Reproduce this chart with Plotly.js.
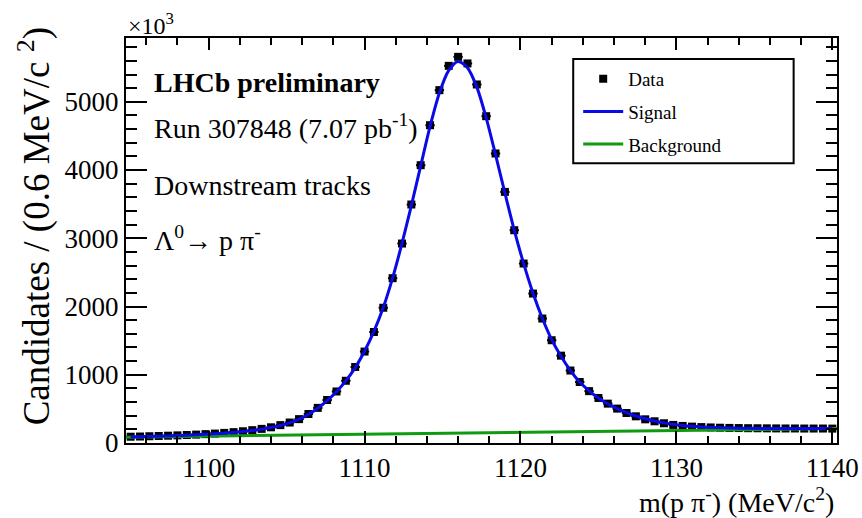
<!DOCTYPE html>
<html>
<head>
<meta charset="utf-8">
<script src="https://cdn.plot.ly/plotly-3.0.1.min.js"></script>
<style>html,body{margin:0;padding:0;background:#fff;}#chart{width:862px;height:518px;}</style>
</head>
<body>
<div id="chart"></div>
<script>
// Bin centres of m(p pi-) in MeV/c^2 (0.6 MeV bins)
const massBins = [
1095.0,1095.6,1096.2,1096.8,1097.4,1098.0,1098.6,1099.2,1099.8,1100.4,
1101.0,1101.6,1102.2,1102.8,1103.4,1104.0,1104.6,1105.2,1105.8,1106.4,
1107.0,1107.6,1108.2,1108.8,1109.4,1110.0,1110.6,1111.2,1111.8,1112.4,
1113.0,1113.6,1114.2,1114.8,1115.4,1116.0,1116.6,1117.2,1117.8,1118.4,
1119.0,1119.6,1120.2,1120.8,1121.4,1122.0,1122.6,1123.2,1123.8,1124.4,
1125.0,1125.6,1126.2,1126.8,1127.4,1128.0,1128.6,1129.2,1129.8,1130.4,
1131.0,1131.6,1132.2,1132.8,1133.4,1134.0,1134.6,1135.2,1135.8,1136.4,
1137.0,1137.6,1138.2,1138.8,1139.4,1140.0];

// Data: candidates per bin (x10^3)
const dataCounts = [
92,95,99,103,107,112,117,123,130,138,
148,159,172,188,207,230,262,300,350,425,
515,630,755,912,1114,1340,1627,1982,2415,2923,
3495,4071,4657,5171,5527,5659,5562,5254,4789,4243,
3680,3118,2630,2190,1824,1506,1280,1062,894,760,
660,577,504,440,391,347,318,289,265,250,
240,233,228,224,221,219,217,216,215,214,
213,213,212,212,212,211];

// Total fit curve ("Signal") evaluated at the bin centres (x10^3)
const fitCounts = [
89,92,96,100,104,109,114,120,127,135,
144,155,168,184,203,227,257,295,348,420,
510,622,752,910,1105,1345,1635,1985,2420,2925,
3480,4060,4640,5130,5460,5590,5500,5215,4765,4225,
3665,3120,2632,2198,1828,1515,1270,1062,895,765,
660,575,505,445,395,355,322,295,273,257,
245,236,229,224,220,217,215,214,213,212,
212,211,211,211,211,211];

// Background component (x10^3)
const bgMass = [1094.7, 1140.3];
const bgCounts = [86, 212];

const serif = 'Liberation Serif';

const traces = [
  {
    x: massBins, y: dataCounts, type: 'scatter', mode: 'markers', name: 'Data',
    marker: {symbol: 'square', size: 8, color: '#000'},
    error_x: {type: 'constant', value: 0.3, width: 0, thickness: 2, color: '#000'},
    legendgroup: 'a', legendrank: 1
  },
  {
    x: bgMass, y: bgCounts, type: 'scatter', mode: 'lines', name: 'Background',
    line: {color: '#0f9a0f', width: 3},
    legendgroup: 'c', legendrank: 3
  },
  {
    x: massBins, y: fitCounts, type: 'scatter', mode: 'lines', name: 'Signal',
    line: {color: '#0a0ae6', width: 3, shape: 'spline', smoothing: 0.8},
    legendgroup: 'b', legendrank: 2
  }
];

const axisCommon = {
  showgrid: false, zeroline: false, showline: true, linecolor: '#000', linewidth: 2,
  mirror: 'allticks', ticks: 'inside', tickcolor: '#000', tickwidth: 2,
  tickfont: {family: serif, size: 27, color: '#000'}
};

const layout = {
  width: 862, height: 518,
  margin: {l: 126, r: 25, t: 38, b: 75},
  paper_bgcolor: '#fff', plot_bgcolor: '#fff',
  font: {family: serif, color: '#000'},
  showlegend: true,
  legend: {
    x: 0.636, y: 0.946, xanchor: 'left', yanchor: 'top',
    font: {family: serif, size: 19, color: '#000'},
    bgcolor: 'rgba(0,0,0,0)', borderwidth: 0,
    tracegroupgap: 5, itemwidth: 40, traceorder: 'grouped'
  },
  xaxis: Object.assign({}, axisCommon, {
    range: [1094.7, 1140.3], dtick: 10, tick0: 1100, ticklen: 12,
    minor: {dtick: 2, ticks: 'inside', ticklen: 7, tickcolor: '#000', tickwidth: 2}
  }),
  yaxis: Object.assign({}, axisCommon, {
    range: [0, 5935], dtick: 1000, ticklen: 21,
    minor: {dtick: 200, ticks: 'inside', ticklen: 11, tickcolor: '#000', tickwidth: 2}
  }),
  shapes: [
    {type: 'rect', xref: 'paper', yref: 'paper', x0: 0.629, x1: 0.939, y0: 0.691, y1: 0.948,
     line: {color: '#000', width: 2}, fillcolor: 'rgba(0,0,0,0)'}
  ],
  annotations: [
    {xref: 'paper', yref: 'paper', x: 0.0, y: 1.035, xanchor: 'left', yanchor: 'middle', showarrow: false,
     text: '×10<sup>3</sup>', font: {family: serif, size: 24, color: '#000'}},
    {xref: 'paper', yref: 'paper', x: 0.036, y: 0.889, xanchor: 'left', yanchor: 'middle', showarrow: false,
     text: '<b>LHCb preliminary</b>', font: {family: serif, size: 28, color: '#000'}},
    {xref: 'paper', yref: 'paper', x: 0.036, y: 0.781, xanchor: 'left', yanchor: 'middle', showarrow: false,
     text: 'Run 307848 (7.07 pb<sup>-1</sup>)', font: {family: serif, size: 28, color: '#000'}},
    {xref: 'paper', yref: 'paper', x: 0.036, y: 0.635, xanchor: 'left', yanchor: 'middle', showarrow: false,
     text: 'Downstream tracks', font: {family: serif, size: 28, color: '#000'}},
    {xref: 'paper', yref: 'paper', x: 0.036, y: 0.505, xanchor: 'left', yanchor: 'middle', showarrow: false,
     text: 'Λ<sup>0</sup>→ p π<sup>-</sup>', font: {family: serif, size: 28, color: '#000'}},
    {xref: 'paper', yref: 'paper', x: -0.128, y: 0.535, xanchor: 'center', yanchor: 'middle', showarrow: false,
     textangle: -90, text: 'Candidates / (0.6 MeV/c <sup>2</sup>)', font: {family: serif, size: 37, color: '#000'}},
    {xref: 'paper', yref: 'paper', x: 0.999, y: -0.142, xanchor: 'right', yanchor: 'middle', showarrow: false,
     text: 'm(p π<sup>-</sup>) (MeV/c<sup>2</sup>)', font: {family: serif, size: 28, color: '#000'}}
  ]
};

Plotly.newPlot('chart', traces, layout, {displayModeBar: false, staticPlot: true});
</script>
</body>
</html>
